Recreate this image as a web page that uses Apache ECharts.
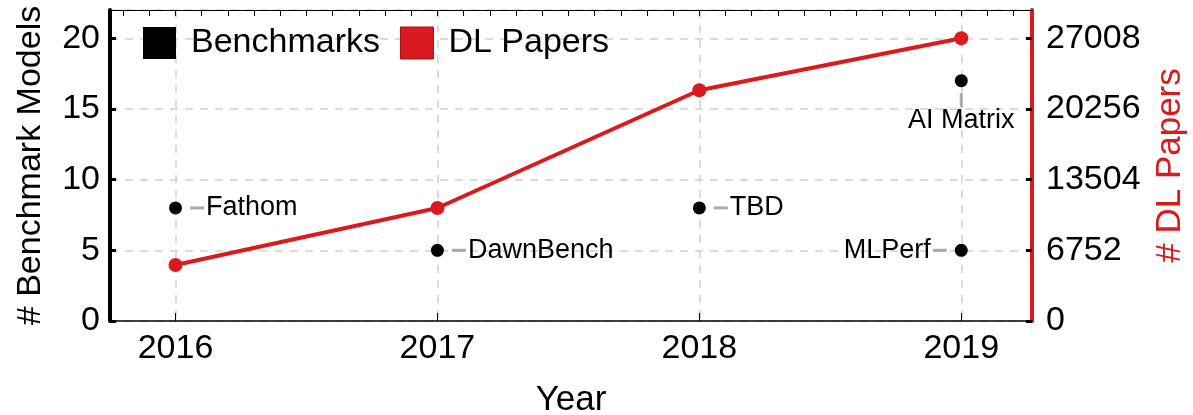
<!DOCTYPE html>
<html>
<head>
<meta charset="utf-8">
<script src="https://cdn.jsdelivr.net/npm/echarts@6/dist/echarts.min.js"></script>
<style>
  html, body { margin: 0; padding: 0; background: #fff; }
  #main { width: 1193px; height: 415px; }
</style>
</head>
<body>
<div id="main"></div>
<script>
// years on the x axis
var years = [2016, 2017, 2018, 2019];

// number of DL papers per year (right axis)
var paperCounts = [5350, 10790, 22040, 27008];

// benchmark suites: year, number of models, name
var benchYears = [2016, 2017, 2018, 2019, 2019];
var benchModels = [8, 5, 8, 17, 5];
var benchNames = ['Fathom', 'DawnBench', 'TBD', 'AI Matrix', 'MLPerf'];

// tick labels
var leftTicks = [0, 5, 10, 15, 20];
var rightTicks = [0, 6752, 13504, 20256, 27008];

var RED = '#d91a1f';
var FONT = '"Liberation Sans", Arial, Helvetica, sans-serif';

// where each benchmark label sits relative to its dot
var labelSide = {
	'Fathom': 'right',
	'DawnBench': 'right',
	'TBD': 'right',
	'AI Matrix': 'bottom',
	'MLPerf': 'left'
};

function benchLabel(name) {
	var side = labelSide[name];
	var lbl = {
		show: true,
		position: side,
		distance: 8,
		color: '#000',
		fontFamily: FONT,
		rich: {
			t: { fontSize: 27, fontFamily: FONT, color: '#000', padding: [0, 2, 0, 2] },
			l: { width: 14, height: 3, backgroundColor: '#aaaaaa' },
			v: { width: 3, height: 14, backgroundColor: '#aaaaaa', align: 'center' }
		}
	};
	if (side === 'right') lbl.formatter = '{l|}{t|' + name + '}';
	else if (side === 'left') lbl.formatter = '{t|' + name + '}{l|}';
	else {
		lbl.formatter = '{v|}\n{t|' + name + '}';
		lbl.distance = 6;
		lbl.align = 'center';
	}
	return lbl;
}

// minor ticks along the top frame
var topTicks = [];
for (var i = 0; i <= 34; i++) topTicks.push(Math.round((2015.8 + i * 0.1) * 10) / 10);

var chart = echarts.init(document.getElementById('main'), null, { renderer: 'canvas' });

var option = {
	animation: false,
	textStyle: { fontFamily: FONT },
	grid: { left: 110, right: 161, top: 10, bottom: 94, outerBoundsMode: 'none' },
	legend: {
		left: 138,
		top: 21,
		icon: 'rect',
		itemWidth: 33,
		itemHeight: 32,
		itemGap: 20,
		inactiveColor: '#000',
		textStyle: { fontSize: 34, fontFamily: FONT, color: '#000', padding: [0, 0, 0, 10] },
		data: [
			{ name: 'Benchmarks', itemStyle: { color: '#000', opacity: 1 } },
			{ name: 'DL Papers', itemStyle: { color: RED, borderColor: '#a81014', borderWidth: 1, opacity: 1 } }
		]
	},
	xAxis: [{
		type: 'value',
		position: 'bottom',
		min: 2015.75,
		max: 2019.27,
		name: 'Year',
		nameLocation: 'middle',
		nameGap: 62,
		nameTextStyle: { fontSize: 35, color: '#000', fontFamily: FONT },
		axisLine: { onZero: false, lineStyle: { color: '#000', width: 1.5 } },
		axisTick: { inside: true, length: 8, customValues: years, lineStyle: { color: '#000', width: 1 } },
		axisLabel: {
			customValues: years, fontSize: 34, color: '#000', margin: 11, fontFamily: FONT,
			formatter: function (v) { return String(v); }
		},
		splitLine: { show: true, lineStyle: { color: '#d0d0d0', width: 1.5, type: [8, 7] } }
	}, {
		type: 'value',
		position: 'top',
		min: 2015.75,
		max: 2019.27,
		axisLine: { show: true, onZero: false, lineStyle: { color: '#000', width: 1 } },
		axisTick: { show: true, inside: true, length: 6, customValues: topTicks, lineStyle: { color: '#000', width: 1 } },
		axisLabel: { show: false },
		splitLine: { show: false }
	}],
	yAxis: [{
		type: 'value',
		position: 'left',
		min: 0,
		max: 22,
		interval: 5,
		name: '# Benchmark Models',
		nameLocation: 'middle',
		nameGap: 62,
		nameTextStyle: { fontSize: 34, color: '#000', fontFamily: FONT },
		axisLine: { show: true, onZero: false, lineStyle: { color: '#000', width: 4 } },
		axisTick: { show: true, inside: true, length: 6, lineStyle: { color: '#000', width: 3 } },
		axisLabel: {
			fontSize: 34, color: '#000', margin: 10, fontFamily: FONT, showMaxLabel: false,
			formatter: function (v) { return leftTicks.indexOf(v) >= 0 ? String(v) : ''; }
		},
		splitLine: { show: true, lineStyle: { color: '#d0d0d0', width: 1.5, type: [8, 7] } }
	}, {
		type: 'value',
		position: 'right',
		min: 0,
		max: 29708.8,
		interval: 6752,
		name: '# DL Papers',
		nameLocation: 'middle',
		nameGap: 121,
		nameTextStyle: { fontSize: 35, color: RED, fontFamily: FONT },
		axisLine: { show: true, onZero: false, lineStyle: { color: RED, width: 4 } },
		axisTick: { show: true, inside: true, length: 6, lineStyle: { color: '#000', width: 3 } },
		axisLabel: {
			fontSize: 34, color: '#000', margin: 14, fontFamily: FONT, showMaxLabel: false,
			formatter: function (v) { return rightTicks.indexOf(v) >= 0 ? String(v) : ''; }
		},
		splitLine: { show: false }
	}],
	series: [{
		name: 'DL Papers',
		type: 'line',
		yAxisIndex: 1,
		z: 2,
		symbol: 'circle',
		symbolSize: 14,
		itemStyle: { color: RED },
		lineStyle: { color: RED, width: 4 },
		data: years.map(function (y, i) { return [y, paperCounts[i]]; })
	}, {
		name: 'Benchmarks',
		type: 'scatter',
		yAxisIndex: 0,
		z: 3,
		symbol: 'circle',
		symbolSize: 13,
		itemStyle: { color: '#000', opacity: 1 },
		data: benchNames.map(function (n, i) {
			return { name: n, value: [benchYears[i], benchModels[i]], label: benchLabel(n) };
		})
	}]
};

chart.setOption(option);
</script>
</body>
</html>
